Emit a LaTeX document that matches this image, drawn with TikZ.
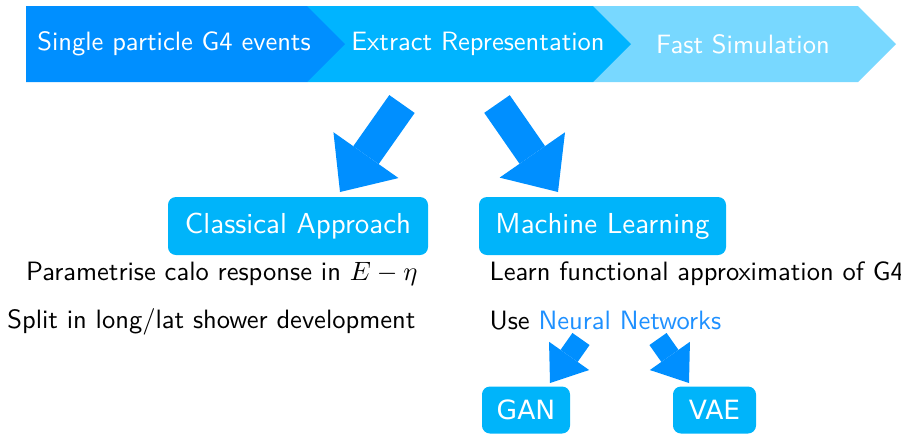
\documentclass[tikz,border=0pt]{standalone}
\usepackage{fontspec}
\usepackage{tikz}
\usetikzlibrary{arrows.meta,positioning}
\newfontfamily\dejavu{DejaVu Sans}
\renewcommand{\familydefault}{\sfdefault}

\definecolor{stepdark}{RGB}{0,143,255}
\definecolor{stepmid}{RGB}{0,180,255}
\definecolor{steplight}{RGB}{120,216,255}
\definecolor{boxblue}{RGB}{0,180,250}
\definecolor{nnblue}{RGB}{30,144,255}

\newcommand{\pxu}{0.377pt}

\begin{document}
\begin{tikzpicture}[x=\pxu,y=-\pxu,
  stagetext/.style={text=white,font=\sffamily},
  methodbox/.style={fill=boxblue,text=white,rounded corners=3pt,minimum height=58*\pxu,font=\sffamily\fontsize{10.9}{13}\selectfont},
  modelbox/.style={fill=boxblue,text=white,rounded corners=3pt,minimum height=47*\pxu,font=\dejavu},
  bigarrow/.style={draw=stepdark,line width=11.7pt,-{Triangle[length=17pt,width=30pt,line width=0pt]}},
  smallarrow/.style={draw=stepdark,line width=7.9pt,-{Triangle[length=12.5pt,width=18.5pt,line width=0pt]}}]
\useasboundingbox (0,0) rectangle (901,434);
% banner: three chevrons, back to front
\fill[steplight] (593,6) -- (858,6) -- (896,44) -- (858,82) -- (593,82) -- cycle;
\fill[stepmid] (307,6) -- (593,6) -- (631,44) -- (593,82) -- (307,82) -- cycle;
\fill[stepdark] (26,6) -- (307,6) -- (345,44) -- (307,82) -- (26,82) -- cycle;
\node[stagetext] (events) at (174,44) {Single particle G4 events};
\node[stagetext] (extract) at (478,44) {Extract Representation};
\node[stagetext] (fastsim) at (743,44) {Fast Simulation};
% two approaches
\node[methodbox,minimum width=260*\pxu] (classic) at (298,226) {Classical Approach};
\node[methodbox,minimum width=247*\pxu] (ml) at (602.5,226) {Machine Learning};
\coordinate (tailL) at (402,104);
\coordinate (tipL) at (340,192);
\coordinate (tailR) at (497,104);
\coordinate (tipR) at (558,192);
\draw[bigarrow] (tailL) -- (tipL);
\draw[bigarrow] (tailR) -- (tipR);
% descriptions
\node[anchor=east,inner sep=0pt] (param) at (418,274) {Parametrise calo response in $E-\eta$};
\node[anchor=east,inner sep=0pt] (split) at (416,322) {Split in long/lat shower development};
\node[anchor=west,inner sep=0pt] (learn) at (489,274) {Learn functional approximation of G4};
\node[anchor=west,inner sep=0pt] (usenn) at (489,321) {Use \textcolor{nnblue}{Neural Networks}};
% generative models
\node[modelbox,minimum width=88*\pxu] (gan) at (526,410) {GAN};
\node[modelbox,minimum width=83*\pxu] (vae) at (714.5,410) {VAE};
\coordinate (tailG) at (581,339);
\coordinate (tipG) at (550,383);
\coordinate (tailV) at (658,339);
\coordinate (tipV) at (689,383);
\draw[smallarrow] (tailG) -- (tipG);
\draw[smallarrow] (tailV) -- (tipV);
\end{tikzpicture}
\end{document}
